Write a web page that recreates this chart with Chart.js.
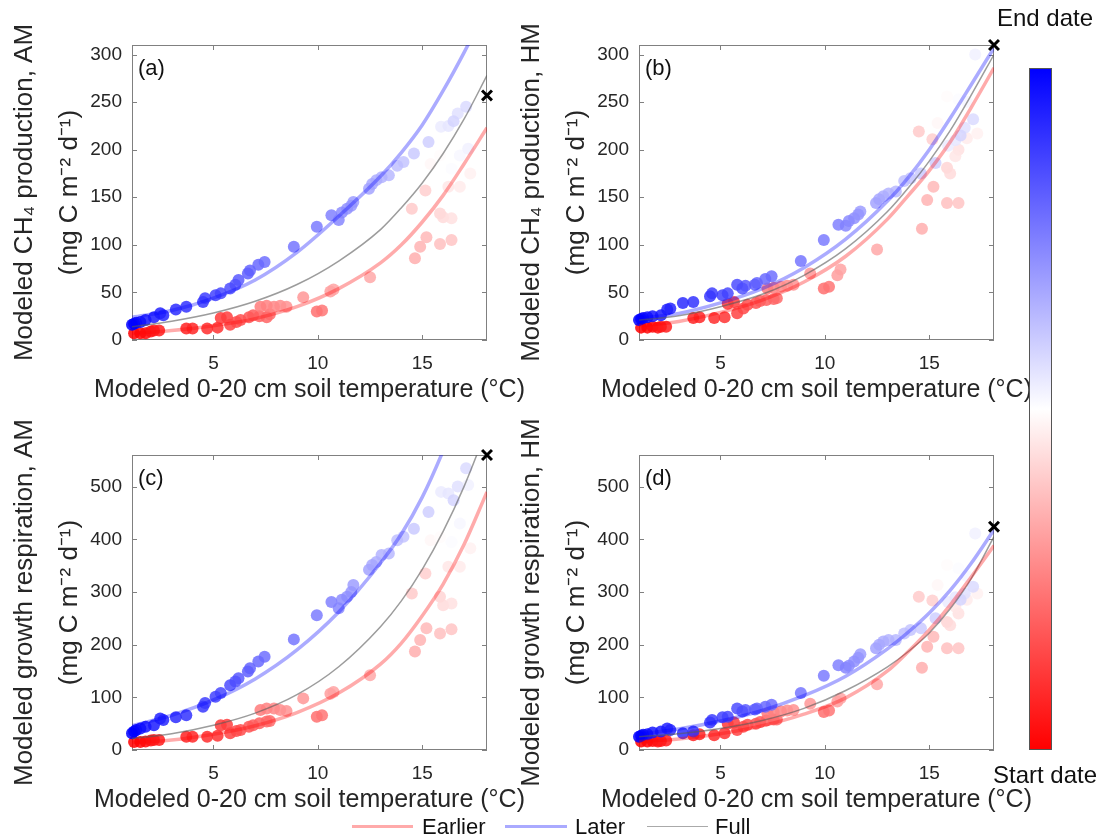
<!DOCTYPE html>
<html>
<head>
<meta charset="utf-8">
<script src="https://cdn.jsdelivr.net/npm/chart.js@4.4.1/dist/chart.umd.min.js"></script>
<style>
  body { margin: 0; background: #fff; font-family: "Liberation Sans", Arial, sans-serif; }
  #wrap { position: relative; width: 1104px; height: 838px; overflow: hidden; }
  .panel { position: absolute; width: 552px; height: 405px; }
  .lg-line { position: absolute; height: 0; }
  .lg-text { position: absolute; font-size: 22px; color: #111; line-height: 26px; }
  #cbar { position: absolute; left: 1029px; top: 68px; width: 23px; height: 682px; box-sizing: border-box;
          border: 1px solid #555; background: linear-gradient(to bottom, #0000ff, #ffffff, #ff0000); }
  .cb-text { position: absolute; font-size: 24px; color: #111; width: 120px; text-align: center; }
</style>
</head>
<body>
<div id="wrap">
  <div class="panel" style="left:0;top:0"><canvas id="pa" width="552" height="405"></canvas></div>
  <div class="panel" style="left:507px;top:0"><canvas id="pb" width="552" height="405"></canvas></div>
  <div class="panel" style="left:0;top:410px"><canvas id="pc" width="552" height="405"></canvas></div>
  <div class="panel" style="left:507px;top:410px"><canvas id="pd" width="552" height="405"></canvas></div>

  <div id="cbar"></div>
  <div class="cb-text" style="left:985px;top:4px">End date</div>
  <div class="cb-text" style="left:985px;top:761px">Start date</div>

  <div class="lg-line" style="left:352px;top:825px;width:61px;border-top:3.5px solid #ffaaaa"></div>
  <div class="lg-text" style="left:422px;top:814px">Earlier</div>
  <div class="lg-line" style="left:505px;top:825px;width:62px;border-top:3.5px solid #aaaaff"></div>
  <div class="lg-text" style="left:575px;top:814px">Later</div>
  <div class="lg-line" style="left:647px;top:826px;width:61px;border-top:1.5px solid #aaaaaa"></div>
  <div class="lg-text" style="left:715px;top:814px">Full</div>
</div>

<script>
// points in date order: first = start date (red), last = end date (blue)
const tempC = [
  1.2, 1.5, 1.75, 2.0, 2.15, 2.4, 3.7, 4.0, 4.7, 5.2,
  5.35, 5.65, 5.8, 6.1, 6.3, 6.7, 6.9, 7.2, 7.55, 7.7, 9.95, 10.2,
  7.25, 7.55, 7.9, 8.2, 8.5, 9.3, 10.6, 10.75, 12.5,
  14.65, 14.9, 15.2, 15.85, 16.4,
  14.5, 15.15, 15.85, 16.0, 16.4, 16.25, 16.8, 17.3,
  15.4, 15.85, 16.4, 16.8, 17.2,
  15.9, 16.25, 16.7, 17.1, 16.5,
  15.3, 14.6, 14.1, 13.8, 13.4, 13.05, 12.8, 12.6, 12.45,
  11.7, 11.6, 11.4, 11.15, 11.0, 10.65, 9.95,
  8.85, 7.45, 7.15, 6.75, 6.65, 6.2, 6.05, 5.8, 5.35, 5.1, 4.6, 4.5,
  3.7, 3.2, 2.6, 2.45, 2.15, 1.75, 1.5, 1.3, 1.2, 1.1
];
const ch4AM = [
  7, 7, 7, 9, 10, 10, 12, 12, 12, 13,
  23, 24, 16, 19, 21, 24, 26, 25, 24, 27, 30, 31,
  35, 36, 35, 36, 35, 45, 51, 53, 66,
  86, 98, 108, 101, 105,
  138, 157, 133, 129, 128, 161, 161, 175,
  185, 194, 180, 194, 201,
  224, 225, 238, 245, 230,
  208, 196, 187, 183, 173, 171, 168, 164, 159,
  145, 141, 138, 134, 126, 131, 119,
  98, 82, 79, 73, 70, 63, 58, 54, 49, 47, 44, 40,
  35, 32, 26, 28, 24, 21, 19, 18, 17, 16
];
const ch4HM = [
  13, 13, 14, 13, 14, 14, 23, 24, 23, 24,
  38, 40, 28, 33, 37, 39, 41, 42, 43, 44, 54, 56,
  54, 55, 56, 57, 58, 70, 68, 74, 95,
  117, 147, 161, 144, 144,
  219, 211, 181, 175, 200, 193, 212, 217,
  228, 256, 253, 250, 300,
  204, 210, 223, 232, 215,
  186, 175, 170, 167, 156, 154, 151, 148, 144,
  135, 132, 128, 125, 120, 121, 105,
  83, 67, 64, 60, 58, 57, 54, 58, 49, 47, 49, 46,
  40, 39, 33, 32, 26, 25, 24, 23, 22, 21
];
const respAM = [
  15, 15, 16, 18, 19, 19, 25, 25, 25, 27,
  47, 48, 32, 36, 38, 44, 47, 51, 54, 55, 63, 66,
  76, 79, 79, 76, 74, 98, 107, 110, 142,
  187, 209, 231, 221, 229,
  297, 335, 291, 275, 278, 348, 348, 383,
  398, 404, 395, 430, 503,
  490, 487, 500, 535, 474,
  452, 420, 405, 398, 373, 370, 357, 351, 342,
  313, 300, 291, 285, 269, 281, 256,
  210, 177, 168, 155, 149, 136, 130, 123, 108, 101, 89, 82,
  66, 62, 57, 60, 47, 44, 41, 38, 35, 32
];
const respHM = [
  16, 16, 17, 16, 17, 18, 28, 30, 28, 32,
  50, 52, 38, 44, 48, 50, 53, 56, 58, 58, 72, 75,
  70, 72, 73, 75, 76, 88, 92, 98, 125,
  156, 196, 215, 193, 193,
  291, 284, 243, 237, 259, 272, 285, 297,
  313, 351, 345, 330, 411,
  281, 290, 297, 310, 285,
  250, 231, 228, 221, 209, 209, 206, 200, 193,
  182, 175, 168, 160, 156, 161, 141,
  108, 86, 82, 79, 77, 76, 73, 79, 63, 62, 57, 52,
  35, 32, 38, 41, 35, 33, 30, 29, 27, 25
];

// fitted curves, read at these temperatures
const curveT = [1.1, 3, 5, 7, 9, 11, 13, 14, 15, 16, 17, 18.1];
const earlierA = [7, 10, 15, 22.5, 35, 54, 81, 100, 124, 152, 185, 223];
const laterA   = [24, 31, 44, 63, 92, 130, 172, 197, 226, 262, 302, 350];
const fullA    = [14, 19.8, 28.4, 40.7, 58.3, 83, 116, 139, 165, 196, 232, 278];
const earlierB = [15, 19.5, 29, 42, 61, 88, 127, 152, 178, 208, 244, 286];
const laterB   = [23, 28, 39, 54, 76, 106, 146, 171, 200, 233, 268, 307];
const fullB    = [21, 25.5, 35, 48, 68, 96, 135, 160, 188, 220, 257, 300];
const earlierC = [14, 19, 30, 46, 71, 108, 163, 203, 255, 315, 390, 490];
const laterC   = [46, 66, 95, 135, 190, 262, 355, 410, 480, 568, 670, 790];
const fullC    = [22, 31, 47, 70, 105, 158, 234, 283, 343, 415, 500, 610];
const earlierD = [16, 21, 31, 46, 68, 99, 150, 187, 228, 275, 328, 388];
const laterD   = [30, 40, 55, 75, 103, 140, 192, 224, 260, 303, 354, 418];
const fullD    = [25, 31, 41, 56, 79, 113, 158, 187, 222, 268, 325, 405];

// end-date marker (x)
const endTemp = 18.1;
const endA = 257, endB = 310, endC = 560, endD = 424;

const xTicks = [5, 10, 15];
const yTicksCH4 = [0, 50, 100, 150, 200, 250, 300];
const yTicksResp = [0, 100, 200, 300, 400, 500];
const xTitle = 'Modeled 0-20 cm soil temperature (°C)';

const textColor = '#262626';
const font = '"Liberation Sans", Arial, sans-serif';

function dateColor(f, alpha) {
  let r, g, b;
  if (f < 0.5) { r = 255; g = b = Math.round(510 * f); }
  else { b = 255; r = g = Math.round(510 * (1 - f)); }
  return `rgba(${r},${g},${b},${alpha})`;
}

const pointColors = tempC.map((t, i) => dateColor(i / (tempC.length - 1), 0.85));

// box around the axes with inward ticks, panel letter and x title
// (x title drawn here so Chart.js does not squeeze it to the axis width)
const boxTicks = {
  id: 'boxTicks',
  beforeDatasetsDraw(chart) {
    const { ctx, chartArea: a, scales: { x, y } } = chart;
    ctx.save();
    ctx.strokeStyle = '#808080';
    ctx.lineWidth = 1;
    ctx.strokeRect(a.left + 0.5, a.top + 0.5, a.right - a.left - 1, a.bottom - a.top - 1);
    ctx.beginPath();
    x.ticks.forEach(t => {
      const px = Math.round(x.getPixelForValue(t.value)) + 0.5;
      ctx.moveTo(px, a.bottom); ctx.lineTo(px, a.bottom - 5);
      ctx.moveTo(px, a.top); ctx.lineTo(px, a.top + 5);
    });
    y.ticks.forEach(t => {
      const py = Math.round(y.getPixelForValue(t.value)) + 0.5;
      ctx.moveTo(a.left, py); ctx.lineTo(a.left + 5, py);
      ctx.moveTo(a.right, py); ctx.lineTo(a.right - 5, py);
    });
    ctx.stroke();
    ctx.restore();
  },
  afterDraw(chart, args, opts) {
    const { ctx, chartArea: a } = chart;
    ctx.save();
    ctx.fillStyle = '#111';
    ctx.font = '22px ' + font;
    ctx.textBaseline = 'middle';
    ctx.fillText(opts.label, a.left + 6, a.top + 24);
    ctx.fillStyle = textColor;
    ctx.font = '25px ' + font;
    ctx.textAlign = 'center';
    ctx.fillText(xTitle, (a.left + a.right) / 2, a.bottom + 50);
    ctx.restore();
  }
};

function fitLine(vals, color, width) {
  return {
    data: curveT.map((t, i) => ({ x: t, y: vals[i] })),
    showLine: true,
    borderColor: color,
    borderWidth: width,
    pointRadius: 0,
    cubicInterpolationMode: 'monotone',
    clip: 0,
    order: 1
  };
}

function makePanel(id, yVals, earlier, later, full, endVal, yMax, yTicks, yTitle, label) {
  new Chart(document.getElementById(id), {
    type: 'scatter',
    data: {
      datasets: [
        {
          data: tempC.map((t, i) => ({ x: t, y: yVals[i] })),
          pointRadius: 6,
          pointBorderWidth: 0,
          pointBackgroundColor: pointColors,
          clip: false,
          order: 2
        },
        fitLine(earlier, 'rgba(255,0,0,0.33)', 3.5),
        fitLine(later, 'rgba(0,0,255,0.33)', 3.5),
        fitLine(full, 'rgba(90,90,90,0.6)', 1.5),
        {
          data: [{ x: endTemp, y: endVal }],
          pointStyle: 'crossRot',
          pointRadius: 7,
          pointBorderWidth: 3,
          borderColor: '#000',
          clip: false,
          order: 0
        }
      ]
    },
    options: {
      responsive: false,
      animation: false,
      events: [],
      layout: { padding: { left: 0, top: 45, right: 65, bottom: 0 } },
      plugins: {
        legend: { display: false },
        tooltip: { enabled: false },
        boxTicks: { label: label }
      },
      scales: {
        x: {
          type: 'linear',
          min: 1.1,
          max: 18.1,
          afterBuildTicks: s => { s.ticks = xTicks.map(v => ({ value: v })); },
          afterFit: s => { s.height = 65; },
          grid: { display: false, drawTicks: false },
          border: { display: false },
          ticks: { color: textColor, font: { family: font, size: 19 }, padding: 12 }
        },
        y: {
          min: 0,
          max: yMax,
          afterBuildTicks: s => { s.ticks = yTicks.map(v => ({ value: v })); },
          afterFit: s => { s.width = 132; },
          grid: { display: false, drawTicks: false },
          border: { display: false },
          ticks: { color: textColor, font: { family: font, size: 19 }, padding: 10 },
          title: {
            display: true,
            text: yTitle,
            color: textColor,
            font: { family: font, size: 26, lineHeight: 1.75 },
            padding: { top: 2, bottom: 0 }
          }
        }
      }
    },
    plugins: [boxTicks]
  });
}

makePanel('pa', ch4AM, earlierA, laterA, fullA, endA, 310, yTicksCH4,
  ['Modeled CH₄ production, AM', '(mg C m⁻² d⁻¹)'], '(a)');
makePanel('pb', ch4HM, earlierB, laterB, fullB, endB, 310, yTicksCH4,
  ['Modeled CH₄ production, HM', '(mg C m⁻² d⁻¹)'], '(b)');
makePanel('pc', respAM, earlierC, laterC, fullC, endC, 560, yTicksResp,
  ['Modeled growth respiration, AM', '(mg C m⁻² d⁻¹)'], '(c)');
makePanel('pd', respHM, earlierD, laterD, fullD, endD, 560, yTicksResp,
  ['Modeled growth respiration, HM', '(mg C m⁻² d⁻¹)'], '(d)');
</script>
</body>
</html>
